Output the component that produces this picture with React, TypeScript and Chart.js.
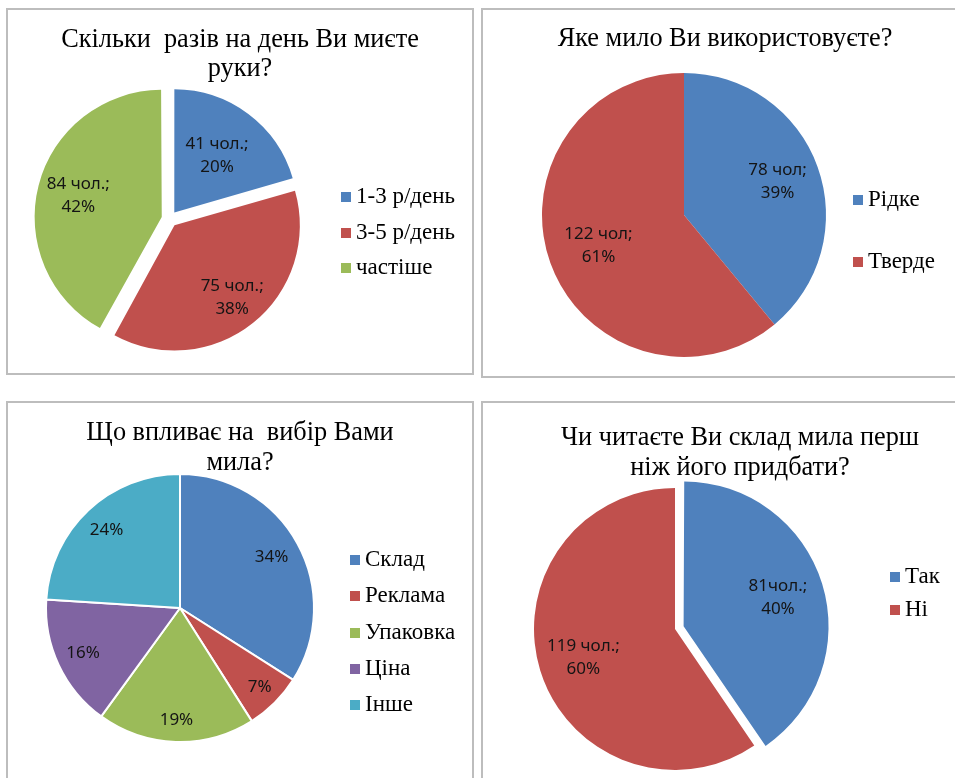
import React, { useEffect, useRef } from "react";
import { Chart, registerables } from "chart.js";

Chart.register(...registerables);

// ---------- data ----------
const PALETTE = ["#4F81BD", "#C0504D", "#9BBB59", "#8064A2", "#4BACC6"];

// Chart 1
const handsTitle = ["Скільки  разів на день Ви миєте", "руки?"];
const handsCategories = ["1-3 р/день", "3-5 р/день", "частіше"];
const handsCounts = [41, 75, 84];
const handsPercents = [20, 38, 42];

// Chart 2
const soapTitle = ["Яке мило Ви використовуєте?"];
const soapCategories = ["Рідке", "Тверде"];
const soapCounts = [78, 122];
const soapPercents = [39, 61];

// Chart 3
const choiceTitle = ["Що впливає на  вибір Вами", "мила?"];
const choiceCategories = ["Склад", "Реклама", "Упаковка", "Ціна", "Інше"];
const choicePercents = [34, 7, 19, 16, 24];

// Chart 4
const readTitle = ["Чи читаєте Ви склад мила перш", "ніж його придбати?"];
const readCategories = ["Так", "Ні"];
const readCounts = [81, 119];
const readPercents = [40, 60];

// ---------- styles / layout ----------
const SERIF = '"Liberation Serif", "Times New Roman", serif';
const SANS = '"Noto Sans", "Open Sans", sans-serif';
const LABEL_SIZE = 17;
const LABEL_GAP = 23;
const PW = 10; // legend symbol slot width
const SQ = 10; // legend square size
const SWATCH_GAP = 5; // gap between square and text
const TITLE_SIZE = 26.3;
const LEGEND_SIZE = 23;

type PanelSpec = {
  box: [number, number, number, number];
  title: string[];
  titleLineH: number;
  titleBaseline: number;
  titleCx: number;
  categories: string[];
  values: number[];
  labels: string[][];
  cx: number;
  cy: number;
  radius: number;
  offsets: number[];
  borderWidth: number;
  legendTextX: number;
  legendFirstY: number;
  legendStep: number;
  labelFactors: number[];
  canvasTop: number;
};

const panels: PanelSpec[] = [
  {
    box: [6, 8, 468, 367],
    title: handsTitle,
    titleLineH: 29,
    titleBaseline: 48.3,
    titleCx: 240,
    categories: handsCategories,
    values: handsCounts,
    labels: handsCounts.map((c, i) => [`${c} чол.;`, `${handsPercents[i]}%`]),
    cx: 169.5,
    cy: 219,
    radius: 123,
    offsets: [32, 32, 32],
    borderWidth: 0,
    legendTextX: 356,
    legendFirstY: 197,
    legendStep: 35.5,
    labelFactors: [0.58, 0.75, 0.7],
    canvasTop: 10,
  },
  {
    box: [481, 8, 520, 370],
    title: soapTitle,
    titleLineH: 29,
    titleBaseline: 48,
    titleCx: 725,
    categories: soapCategories,
    values: soapCounts,
    labels: soapCounts.map((c, i) => [`${c} чол;`, `${soapPercents[i]}%`]),
    cx: 684,
    cy: 215,
    radius: 142,
    offsets: [0, 0],
    borderWidth: 0,
    legendTextX: 868,
    legendFirstY: 200,
    legendStep: 62,
    labelFactors: [0.7, 0.64],
    canvasTop: 10,
  },
  {
    box: [6, 401, 468, 420],
    title: choiceTitle,
    titleLineH: 30,
    titleBaseline: 442,
    titleCx: 240,
    categories: choiceCategories,
    values: choicePercents,
    labels: choicePercents.map((p) => [`${p}%`]),
    cx: 180,
    cy: 608,
    radius: 134,
    offsets: [0, 0, 0, 0, 0],
    borderWidth: 2,
    legendTextX: 365,
    legendFirstY: 560,
    legendStep: 36.25,
    labelFactors: [0.78, 0.84, 0.84, 0.8, 0.8],
    canvasTop: 403,
  },
  {
    box: [481, 401, 520, 420],
    title: readTitle,
    titleLineH: 30,
    titleBaseline: 447,
    titleCx: 740,
    categories: readCategories,
    values: readCounts,
    labels: readCounts.map((c, i) => [i === 0 ? `${c}чол.;` : `${c} чол.;`, `${readPercents[i]}%`]),
    cx: 675,
    cy: 629,
    radius: 141,
    offsets: [36, 0],
    borderWidth: 0,
    legendTextX: 905,
    legendFirstY: 577,
    legendStep: 33,
    labelFactors: [0.7, 0.68],
    canvasTop: 403,
  },
];

function computeLayout(s: PanelSpec) {
  const fs = LEGEND_SIZE;
  const ih = Math.max(fs, SQ);
  const p = s.legendStep - ih;
  const legendLeft = s.legendTextX - p - PW - fs / 2;
  const M = 2 * (s.titleCx - s.cx);
  const mctx = document.createElement("canvas").getContext("2d")!;
  mctx.font = `${fs}px ${SERIF}`;
  const maxText = Math.max(...s.categories.map((t) => mctx.measureText(t).width));
  const natural = p + PW + fs / 2 + maxText + 10;
  let sl = 0;
  let sr = 0;
  if (M >= natural) sr = M - natural;
  else sl = natural - M;
  const v = legendLeft + sr + natural;
  const u = 2 * s.titleCx - v;
  const PADX = 90;
  const left = Math.floor(u - PADX);
  const width = Math.ceil(v + PADX) - left;
  const top = s.canvasTop;
  const lineH = s.titleLineH;
  const asc = Math.round(0.891 * TITLE_SIZE);
  const desc = Math.round(0.216 * TITLE_SIZE);
  const mid = (asc - desc) / 2;
  const titlePadTop = s.titleBaseline - top - mid - lineH / 2;
  const chartTop = titlePadTop + s.title.length * lineH;
  const chartBottom = 2 * (s.cy - top) - chartTop;
  const height = Math.ceil(Math.max(chartBottom + 20, s.cy + s.radius + 40 - top));
  const padBottom = height - chartBottom;
  const legendTitleH = s.legendFirstY - top - ih / 2 - p;
  return {
    p,
    spacer: Math.max(sl, sr),
    spacerPos: sl > 0 ? "left" : "right",
    legendMax: natural + 1,
    left,
    width,
    top,
    height,
    padLeft: u - left,
    padRight: left + width - v,
    padBottom,
    titlePadTop,
    legendTitleH,
  };
}

function makeSwatch(color: string) {
  // square sits at the right end of a canvas centred on the legend symbol slot
  const cw = Math.round(PW + LEGEND_SIZE - 2 * SWATCH_GAP);
  const c = document.createElement("canvas");
  c.width = cw;
  c.height = SQ;
  const g = c.getContext("2d")!;
  g.fillStyle = color;
  g.fillRect(cw - SQ, 0, SQ, SQ);
  return c;
}

function PiePanel({ s }: { s: PanelSpec }) {
  const ref = useRef<HTMLCanvasElement>(null);
  const L = computeLayout(s);

  useEffect(() => {
    if (!ref.current) return;
    const colors = PALETTE.slice(0, s.values.length);
    const swatches = colors.map(makeSwatch);

    const labelPlugin = {
      id: "sliceLabels",
      afterDatasetsDraw(chart: any) {
        const meta = chart.getDatasetMeta(0);
        const ctx = chart.ctx;
        ctx.save();
        ctx.font = `${LABEL_SIZE}px ${SANS}`;
        ctx.fillStyle = "#141414";
        ctx.textAlign = "center";
        ctx.textBaseline = "middle";
        meta.data.forEach((el: any, i: number) => {
          const { x, y, startAngle, endAngle, outerRadius } = el.getProps(
            ["x", "y", "startAngle", "endAngle", "outerRadius"],
            true
          );
          const a = (startAngle + endAngle) / 2;
          const shift = (el.options.offset || 0) / 4;
          const r = shift + s.labelFactors[i] * outerRadius;
          const px = x + Math.cos(a) * r;
          const py = y + Math.sin(a) * r;
          const lines = s.labels[i];
          lines.forEach((t, k) => {
            ctx.fillText(t, px, py + (k - (lines.length - 1) / 2) * LABEL_GAP);
          });
        });
        ctx.restore();
      },
    };

    const chart = new Chart(ref.current, {
      type: "pie",
      data: {
        labels: s.categories,
        datasets: [
          {
            data: s.values,
            backgroundColor: colors,
            borderColor: "#ffffff",
            borderWidth: s.borderWidth,
            offset: s.offsets,
            hoverOffset: 0,
          },
        ],
      },
      options: {
        responsive: false,
        animation: false,
        events: [],
        radius: s.radius,
        clip: false,
        layout: {
          padding: { left: L.padLeft, right: L.padRight, top: 0, bottom: L.padBottom },
        },
        plugins: {
          tooltip: { enabled: false },
          title: {
            display: true,
            text: s.title,
            color: "#000",
            font: { family: SERIF, size: TITLE_SIZE, weight: "normal", lineHeight: `${s.titleLineH}px` },
            padding: { top: L.titlePadTop, bottom: 0 },
          },
          subtitle: {
            display: L.spacer > 0,
            position: L.spacerPos,
            text: "",
            font: { size: 1, lineHeight: `${L.spacer}px` },
            padding: 0,
          },
          legend: {
            display: true,
            position: "right",
            align: "start",
            maxWidth: L.legendMax,
            title: {
              display: true,
              text: "",
              font: { size: 1, lineHeight: `${L.legendTitleH}px` },
              padding: 0,
            },
            labels: {
              usePointStyle: true,
              pointStyleWidth: PW,
              boxWidth: PW,
              boxHeight: SQ,
              padding: L.p,
              color: "#000",
              font: { family: SERIF, size: LEGEND_SIZE },
              generateLabels: (chart: any) =>
                (Chart as any).overrides.doughnut.plugins.legend.labels
                  .generateLabels(chart)
                  .map((it: any, i: number) => ({ ...it, lineWidth: 0, pointStyle: swatches[i] })),
            },
          },
        },
      } as any,
      plugins: [labelPlugin],
    });
    return () => chart.destroy();
  }, []);

  return (
    <>
      <div
        style={{
          position: "absolute",
          left: s.box[0],
          top: s.box[1],
          width: s.box[2],
          height: s.box[3],
          border: "2px solid #bdbdbd",
          boxSizing: "border-box",
        }}
      />
      <canvas
        ref={ref}
        width={L.width}
        height={L.height}
        style={{ position: "absolute", left: L.left, top: L.top, width: L.width, height: L.height }}
      />
    </>
  );
}

export default function App() {
  return (
    <div
      style={{
        position: "absolute",
        left: 0,
        top: 0,
        width: 955,
        height: 778,
        overflow: "hidden",
        background: "#fff",
      }}
    >
      {panels.map((s, i) => (
        <PiePanel key={i} s={s} />
      ))}
    </div>
  );
}
